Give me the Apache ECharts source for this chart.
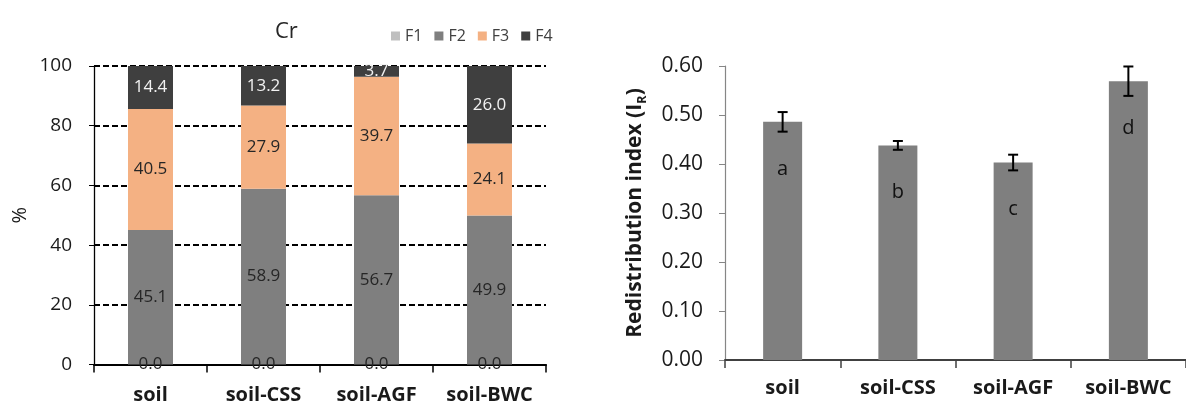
<!DOCTYPE html>
<html>
<head>
<meta charset="utf-8">
<script src="https://cdn.jsdelivr.net/npm/echarts@6/dist/echarts.min.js"></script>
<style>
  html, body { margin: 0; padding: 0; background: #ffffff; }
  #chart { width: 1186px; height: 406px; }
</style>
</head>
<body>
<div id="chart"></div>
<script>
// Samples shared by both panels
const categories = ['soil', 'soil-CSS', 'soil-AGF', 'soil-BWC'];

// Left panel: Cr fractions (%), stacked F1..F4
const fractionNames = ['F1', 'F2', 'F3', 'F4'];
const fractionF1 = [0.0, 0.0, 0.0, 0.0];
const fractionF2 = [45.1, 58.9, 56.7, 49.9];
const fractionF3 = [40.5, 27.9, 39.7, 24.1];
const fractionF4 = [14.4, 13.2, 3.7, 26.0];
const fractionTicks = [0, 20, 40, 60, 80, 100];

// Right panel: redistribution index with error and significance letters
const irMean = [0.486, 0.438, 0.403, 0.569];
const irError = [0.020, 0.009, 0.016, 0.030];
const irLetters = ['a', 'b', 'c', 'd'];
const irTicks = [0.0, 0.1, 0.2, 0.3, 0.4, 0.5, 0.6];

const FONT = '"Open Sans", "Noto Sans", sans-serif';
const fractionColors = ['#bfbfbf', '#7f7f7f', '#f4b183', '#3f3f3f'];
const fractionValues = [fractionF1, fractionF2, fractionF3, fractionF4];

const stackSeries = fractionNames.map((name, k) => ({
  name: name,
  type: 'bar',
  stack: 'fraction',
  xAxisIndex: 0,
  yAxisIndex: 0,
  barWidth: 45,
  itemStyle: { color: fractionColors[k] },
  label: {
    show: true,
    position: 'inside',
    fontFamily: FONT,
    fontSize: 17,
    color: k === 3 ? '#f2f2f2' : '#262626',
    formatter: p => p.value.toFixed(1)
  },
  data: fractionValues[k]
}));

const chart = echarts.init(document.getElementById('chart'), null, { renderer: 'canvas' });

chart.setOption({
  animation: false,
  backgroundColor: '#ffffff',
  textStyle: { fontFamily: FONT },
  title: {
    text: 'Cr',
    left: 270,
    top: 16,
    textStyle: { fontFamily: FONT, fontSize: 22, fontWeight: 'normal', color: '#262626' }
  },
  legend: {
    data: fractionNames,
    left: 386,
    top: 23,
    icon: 'rect',
    itemWidth: 9,
    itemHeight: 9,
    itemGap: 12,
    textStyle: { fontFamily: FONT, fontSize: 16, color: '#404040' }
  },
  grid: [
    { left: 94, right: 640, top: 66, bottom: 41.5 },
    { left: 725, right: -15, top: 66, bottom: 46 }
  ],
  xAxis: [
    {
      type: 'category',
      gridIndex: 0,
      data: categories,
      axisLine: { lineStyle: { color: '#000', width: 2 } },
      axisTick: { show: true, length: 8, lineStyle: { color: '#000', width: 1.5 } },
      axisLabel: { margin: 21, fontFamily: FONT, fontSize: 20, fontWeight: 'bold', color: '#1a1a1a' }
    },
    {
      type: 'category',
      gridIndex: 1,
      data: categories,
      axisLine: { lineStyle: { color: '#404040', width: 2 } },
      axisTick: { show: true, length: 8, lineStyle: { color: '#404040', width: 1.5 } },
      axisLabel: { margin: 18, fontFamily: FONT, fontSize: 20, fontWeight: 'bold', color: '#1a1a1a' }
    }
  ],
  yAxis: [
    {
      type: 'value',
      gridIndex: 0,
      min: fractionTicks[0],
      max: fractionTicks[fractionTicks.length - 1],
      interval: fractionTicks[1] - fractionTicks[0],
      name: '%',
      nameLocation: 'middle',
      nameGap: 64,
      nameRotate: 90,
      nameTextStyle: { fontFamily: FONT, fontSize: 20, color: '#1a1a1a' },
      axisLine: { show: true, lineStyle: { color: '#000', width: 1.3 } },
      axisTick: { show: true, length: 5, lineStyle: { color: '#000' } },
      axisLabel: { margin: 22, fontFamily: FONT, fontSize: 19, color: '#1a1a1a' },
      splitLine: { show: true, lineStyle: { color: '#000', width: 1.8, type: [6, 3] } }
    },
    {
      type: 'value',
      gridIndex: 1,
      min: irTicks[0],
      max: irTicks[irTicks.length - 1],
      interval: 0.1,
      name: '{b|Redistribution index (I}{s|R}{b|)}',
      nameLocation: 'middle',
      nameGap: 76,
      nameRotate: 90,
      nameTextStyle: {
        rich: {
          b: { fontFamily: FONT, fontSize: 21, fontWeight: 'bold', color: '#1a1a1a', lineHeight: 28, verticalAlign: 'middle' },
          s: { fontFamily: FONT, fontSize: 13, fontWeight: 'bold', color: '#1a1a1a', lineHeight: 14, verticalAlign: 'bottom' }
        }
      },
      axisLine: { show: true, lineStyle: { color: '#868686', width: 1.2 } },
      axisTick: { show: true, length: 6, lineStyle: { color: '#868686' } },
      axisLabel: {
        margin: 22, fontFamily: FONT, fontSize: 21, color: '#1a1a1a',
        formatter: v => v.toFixed(2)
      },
      splitLine: { show: false }
    }
  ],
  series: stackSeries.concat([
    {
      name: 'IR',
      type: 'bar',
      xAxisIndex: 1,
      yAxisIndex: 1,
      barWidth: 39,
      itemStyle: { color: '#7f7f7f' },
      label: {
        show: true,
        position: 'insideTop',
        distance: 37,
        fontFamily: FONT,
        fontSize: 20,
        color: '#111',
        formatter: p => irLetters[p.dataIndex]
      },
      data: irMean
    },
    {
      name: 'IR error',
      type: 'custom',
      xAxisIndex: 1,
      yAxisIndex: 1,
      z: 5,
      encode: { x: 0, y: [1, 2] },
      renderItem: (params, api) => {
        const i = api.value(0);
        const m = api.value(1);
        const e = api.value(2);
        const top = api.coord([i, m + e]);
        const bot = api.coord([i, m - e]);
        const hw = 5;
        const style = { stroke: '#000', lineWidth: 2 };
        return {
          type: 'group',
          children: [
            { type: 'line', shape: { x1: top[0], y1: top[1], x2: bot[0], y2: bot[1] }, style: style },
            { type: 'line', shape: { x1: top[0] - hw, y1: top[1], x2: top[0] + hw, y2: top[1] }, style: style },
            { type: 'line', shape: { x1: bot[0] - hw, y1: bot[1], x2: bot[0] + hw, y2: bot[1] }, style: style }
          ]
        };
      },
      data: categories.map((c, i) => [i, irMean[i], irError[i]])
    }
  ])
});
</script>
</body>
</html>
